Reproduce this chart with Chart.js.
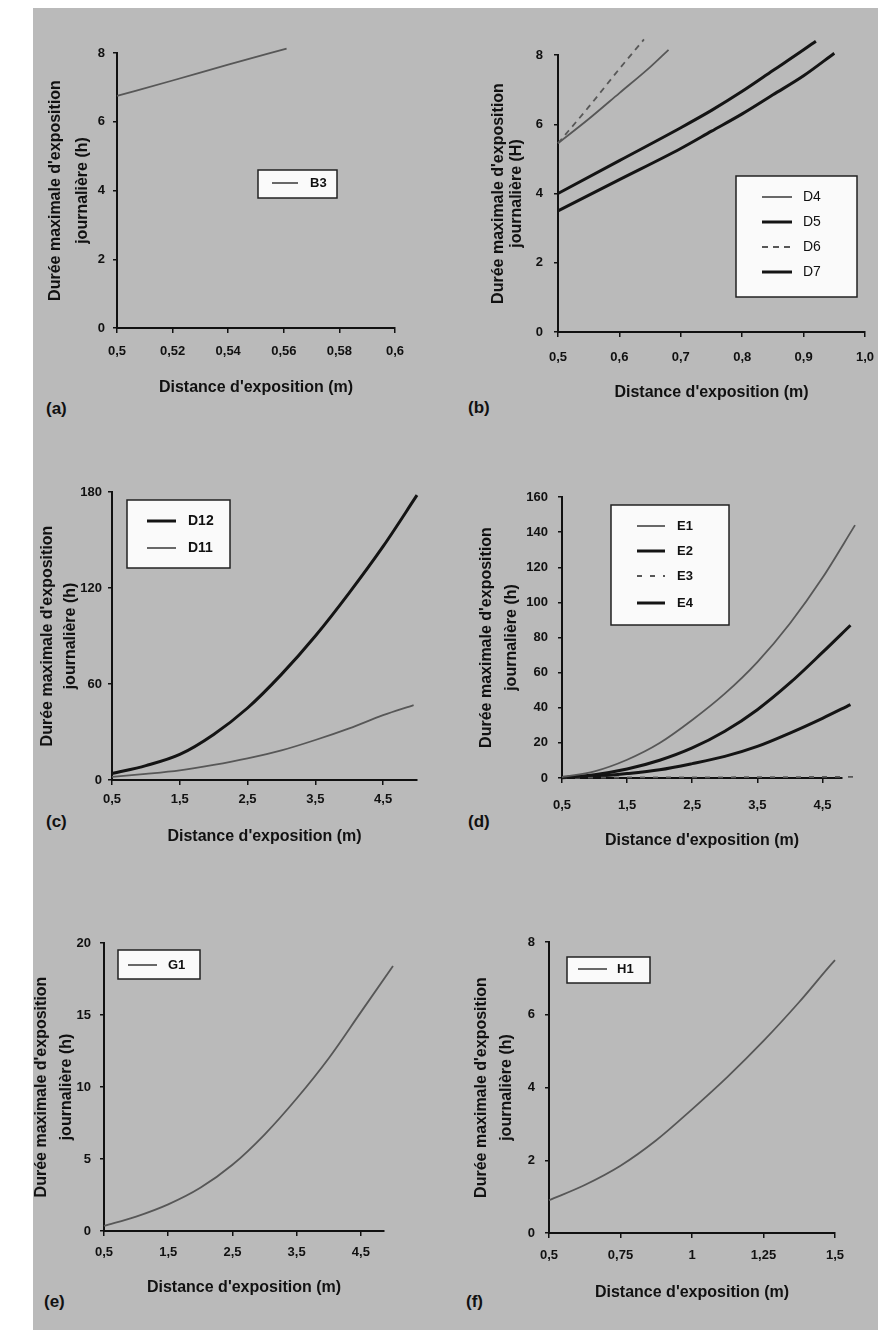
<!DOCTYPE html>
<html lang="fr">
<head>
<meta charset="UTF-8">
<title>Durée maximale d'exposition journalière</title>
<script src="https://cdn.jsdelivr.net/npm/chart.js"></script>
<style>
    html, body { margin: 0; padding: 0; background: #ffffff; }
    body { width: 881px; height: 1330px; position: relative; overflow: hidden;
           font-family: Arial, "Liberation Sans", sans-serif; }
    #sheet { position: absolute; left: 33px; top: 8px; width: 845px; height: 1322px; background: #bababa; }
    canvas { position: absolute; }
    .tag { position: absolute; font: bold 17px Arial, "Liberation Sans", sans-serif; color: #111; line-height: 18px; }
</style>
</head>
<body>
<div id="sheet"></div>
<div class="tag" style="left:46px; top:400px;">(a)</div>
<div class="tag" style="left:468px; top:399px;">(b)</div>
<div class="tag" style="left:46px; top:813px;">(c)</div>
<div class="tag" style="left:468px; top:813px;">(d)</div>
<div class="tag" style="left:44px; top:1293px;">(e)</div>
<div class="tag" style="left:466px; top:1293px;">(f)</div>

<script>
// ---- data ----
// (a)
const aX = [0.5, 0.52, 0.54, 0.561];
const aB3 = [6.75, 7.2, 7.66, 8.13];
const aXTicks = [0.5, 0.52, 0.54, 0.56, 0.58, 0.6];
const aXLabels = ['0,5', '0,52', '0,54', '0,56', '0,58', '0,6'];
const aYTicks = [0, 2, 4, 6, 8];

// (b)
const bXD4 = [0.5, 0.55, 0.6, 0.65, 0.68];
const bD4 = [5.45, 6.15, 6.9, 7.65, 8.15];
const bXD5 = [0.5, 0.6, 0.7, 0.75, 0.8, 0.85, 0.9, 0.92];
const bD5 = [4.0, 4.95, 5.9, 6.4, 6.95, 7.55, 8.15, 8.4];
const bXD6 = [0.5, 0.55, 0.6, 0.64];
const bD6 = [5.45, 6.5, 7.6, 8.45];
const bXD7 = [0.5, 0.6, 0.7, 0.75, 0.8, 0.85, 0.9, 0.95];
const bD7 = [3.5, 4.4, 5.3, 5.8, 6.3, 6.85, 7.4, 8.05];
const bXTicks = [0.5, 0.6, 0.7, 0.8, 0.9, 1.0];
const bXLabels = ['0,5', '0,6', '0,7', '0,8', '0,9', '1,0'];
const bYTicks = [0, 2, 4, 6, 8];

// (c)
const cXD12 = [0.5, 1, 1.5, 2, 2.5, 3, 3.5, 4, 4.5, 5];
const cD12 = [4, 9, 16, 28.5, 45, 66, 90, 117, 146, 178];
const cXD11 = [0.5, 1, 1.5, 2, 2.5, 3, 3.5, 4, 4.5, 4.95];
const cD11 = [2, 3.8, 6, 9.4, 13.5, 18.5, 25, 32.3, 40.5, 46.8];
const cXTicks = [0.5, 1.5, 2.5, 3.5, 4.5];
const cXLabels = ['0,5', '1,5', '2,5', '3,5', '4,5'];
const cYTicks = [0, 60, 120, 180];

// (d)
const dX1 = [0.5, 1, 1.5, 2, 2.5, 3, 3.5, 4, 4.5, 5];
const dE1 = [0.5, 3.8, 10.4, 19.9, 33, 48, 66, 88, 114, 144];
const dE3 = [0.1, 0.2, 0.3, 0.3, 0.4, 0.4, 0.5, 0.5, 0.6, 0.6];
const dX2 = [0.5, 1, 1.5, 2, 2.5, 3, 3.5, 4, 4.5, 4.93];
const dE2 = [0.3, 1.9, 5.1, 10.1, 17.1, 26.6, 38.9, 54.1, 71.5, 87];
const dE4 = [0.2, 0.9, 2.5, 4.7, 8.2, 12.3, 18, 25.6, 34, 41.8];
const dXTicks = [0.5, 1.5, 2.5, 3.5, 4.5];
const dXLabels = ['0,5', '1,5', '2,5', '3,5', '4,5'];
const dYTicks = [0, 20, 40, 60, 80, 100, 120, 140, 160];

// (e)
const eX = [0.5, 1, 1.5, 2, 2.5, 3, 3.5, 4, 4.5, 5];
const eG1 = [0.35, 1.0, 1.85, 3.0, 4.6, 6.7, 9.2, 12, 15.2, 18.4];
const eXTicks = [0.5, 1.5, 2.5, 3.5, 4.5];
const eXLabels = ['0,5', '1,5', '2,5', '3,5', '4,5'];
const eYTicks = [0, 5, 10, 15, 20];

// (f)
const fX = [0.5, 0.625, 0.75, 0.875, 1, 1.125, 1.25, 1.375, 1.5, 1.52];
const fH1 = [0.9, 1.32, 1.85, 2.55, 3.4, 4.3, 5.28, 6.35, 7.5, 7.66];
const fXTicks = [0.5, 0.75, 1, 1.25, 1.5];
const fXLabels = ['0,5', '0,75', '1', '1,25', '1,5'];
const fYTicks = [0, 2, 4, 6, 8];

// ---- layout of each panel (page pixels) ----
const GEOM = {
    a: { l: 117, t: 53,  r: 395, b: 328,  yTitleX: 56,  ySpace: 27, xTitleY: 388,  xPad: 11, yPad: 8 },
    b: { l: 558, t: 55,  r: 865, b: 332,  yTitleX: 499, ySpace: 18, xTitleY: 393,  xPad: 13, yPad: 11 },
    c: { l: 112, t: 492, r: 417, b: 780,  yTitleX: 48,  ySpace: 23, xTitleY: 837,  xPad: 7,  yPad: 6 },
    d: { l: 562, t: 497, r: 842, b: 778,  yTitleX: 487, ySpace: 25, xTitleY: 841,  xPad: 15, yPad: 10 },
    e: { l: 104, t: 943, r: 384, b: 1231, yTitleX: 42,  ySpace: 25, xTitleY: 1288, xPad: 9,  yPad: 9 },
    f: { l: 549, t: 942, r: 835, b: 1233, yTitleX: 482, ySpace: 25, xTitleY: 1293, xPad: 10, yPad: 10 }
};

// legend boxes drawn inside the plot (page pixels)
const LEGENDS = {
    a: { box: [258, 170, 79, 28],  rows: [183],                sx: [272, 298], tx: 310, font: 'bold 13px Arial, "Liberation Sans", sans-serif' },
    b: { box: [736, 176, 121, 121], rows: [197, 222, 247, 272], sx: [762, 792], tx: 803, font: '14px Arial, "Liberation Sans", sans-serif' },
    c: { box: [127, 500, 103, 68], rows: [521, 548],           sx: [147, 176], tx: 188, font: 'bold 14px Arial, "Liberation Sans", sans-serif' },
    d: { box: [611, 505, 118, 120], rows: [526, 551, 576, 603], sx: [637, 665], tx: 677, font: 'bold 13px Arial, "Liberation Sans", sans-serif' },
    e: { box: [118, 950, 82, 29],  rows: [965],                sx: [128, 157], tx: 168, font: 'bold 13px Arial, "Liberation Sans", sans-serif' },
    f: { box: [567, 957, 83, 26],  rows: [969],                sx: [578, 607], tx: 617, font: 'bold 13px Arial, "Liberation Sans", sans-serif' }
};

const GREY = { borderColor: '#575757', borderWidth: 1.8 };
const BLACK = { borderColor: '#141414', borderWidth: 3 };
const DASH = { borderColor: '#575757', borderWidth: 1.8, borderDash: [6, 5] };
const INK = '#111111';
const FONT = 'Arial, "Liberation Sans", sans-serif';

function series(label, xs, ys, style) {
    return Object.assign({
        label: label,
        data: xs.map((x, i) => ({ x: x, y: ys[i] })),
        pointRadius: 0,
        fill: false,
        clip: false,
        cubicInterpolationMode: 'monotone'
    }, style);
}

// legend drawn as a framed box inside the chart area
const boxLegend = {
    id: 'boxLegend',
    afterDraw(chart) {
        const lg = LEGENDS[chart.canvas.id];
        if (!lg) return;
        const ox = chart.canvas._ox, oy = chart.canvas._oy;
        const ctx = chart.ctx;
        ctx.save();
        ctx.fillStyle = '#fafafa';
        ctx.fillRect(lg.box[0] - ox, lg.box[1] - oy, lg.box[2], lg.box[3]);
        ctx.strokeStyle = '#222';
        ctx.lineWidth = 1.5;
        ctx.strokeRect(lg.box[0] - ox, lg.box[1] - oy, lg.box[2], lg.box[3]);
        chart.data.datasets.forEach((ds, i) => {
            const y = lg.rows[i] - oy;
            ctx.strokeStyle = ds.borderColor;
            ctx.lineWidth = ds.borderWidth;
            ctx.setLineDash(ds.borderDash || []);
            ctx.beginPath();
            ctx.moveTo(lg.sx[0] - ox, y);
            ctx.lineTo(lg.sx[1] - ox, y);
            ctx.stroke();
            ctx.setLineDash([]);
            ctx.fillStyle = INK;
            ctx.font = lg.font;
            ctx.textBaseline = 'middle';
            ctx.textAlign = 'left';
            ctx.fillText(ds.label, lg.tx - ox, y);
        });
        ctx.restore();
    }
};

function panel(key, xMin, xMax, xTicks, xLabels, yMax, yTicks, yUnit, datasets) {
    const g = GEOM[key];
    const left = Math.floor(g.yTitleX - g.ySpace / 2 - 4);
    const top = g.t - 20;
    const yW = g.l - left;
    const xH = g.xTitleY - g.b + 10;
    const w = g.r - left + 30;
    const h = g.b - top + xH;

    const cv = document.createElement('canvas');
    cv.id = key;
    cv.width = w;
    cv.height = h;
    cv.style.left = left + 'px';
    cv.style.top = top + 'px';
    cv._ox = left;
    cv._oy = top;
    document.body.appendChild(cv);

    const axisGrid = { display: true, drawOnChartArea: false, drawTicks: true, tickLength: 5, color: INK, lineWidth: 1.5 };
    const axisBorder = { display: true, color: INK, width: 2 };

    new Chart(cv.getContext('2d'), {
        type: 'line',
        data: { datasets: datasets },
        options: {
            responsive: false,
            animation: false,
            devicePixelRatio: 1,
            layout: { padding: { left: 0, top: 20, right: 30, bottom: 0 } },
            plugins: { legend: { display: false }, tooltip: { enabled: false } },
            scales: {
                x: {
                    type: 'linear',
                    min: xMin,
                    max: xMax,
                    afterBuildTicks: s => { s.ticks = xTicks.map(v => ({ value: v })); },
                    afterFit: s => { s.height = xH; },
                    ticks: {
                        autoSkip: false, maxRotation: 0, minRotation: 0, padding: g.xPad, color: INK,
                        font: { family: FONT, size: 13, weight: 'bold' },
                        callback: (v, i) => xLabels[i]
                    },
                    grid: axisGrid,
                    border: axisBorder,
                    title: {
                        display: true,
                        text: "Distance d'exposition (m)",
                        color: INK,
                        font: { family: FONT, size: 16, weight: 'bold', lineHeight: '20px' },
                        padding: { top: 0, bottom: 0 }
                    }
                },
                y: {
                    type: 'linear',
                    min: 0,
                    max: yMax,
                    afterBuildTicks: s => { s.ticks = yTicks.map(v => ({ value: v })); },
                    afterFit: s => { s.width = yW; },
                    ticks: {
                        autoSkip: false, padding: g.yPad, color: INK,
                        font: { family: FONT, size: 13, weight: 'bold' },
                        callback: v => String(v)
                    },
                    grid: Object.assign({}, axisGrid, { tickLength: 4 }),
                    border: axisBorder,
                    title: {
                        display: true,
                        text: ["Durée maximale d'exposition", 'journalière (' + yUnit + ')'],
                        color: INK,
                        font: { family: FONT, size: 16, weight: 'bold', lineHeight: g.ySpace + 'px' },
                        padding: { top: g.yTitleX - left - g.ySpace / 2, bottom: 0 }
                    }
                }
            }
        },
        plugins: [boxLegend]
    });
}

panel('a', 0.5, 0.6, aXTicks, aXLabels, 8, aYTicks, 'h', [
    series('B3', aX, aB3, GREY)
]);

panel('b', 0.5, 1.0, bXTicks, bXLabels, 8, bYTicks, 'H', [
    series('D4', bXD4, bD4, GREY),
    series('D5', bXD5, bD5, BLACK),
    series('D6', bXD6, bD6, DASH),
    series('D7', bXD7, bD7, BLACK)
]);

panel('c', 0.5, 5, cXTicks, cXLabels, 180, cYTicks, 'h', [
    series('D12', cXD12, cD12, BLACK),
    series('D11', cXD11, cD11, GREY)
]);

panel('d', 0.5, 4.8, dXTicks, dXLabels, 160, dYTicks, 'h', [
    series('E1', dX1, dE1, GREY),
    series('E2', dX2, dE2, BLACK),
    series('E3', dX1, dE3, { borderColor: '#575757', borderWidth: 1.8, borderDash: [5, 8] }),
    series('E4', dX2, dE4, BLACK)
]);

panel('e', 0.5, 4.86, eXTicks, eXLabels, 20, eYTicks, 'h', [
    series('G1', eX, eG1, GREY)
]);

panel('f', 0.5, 1.5, fXTicks, fXLabels, 8, fYTicks, 'h', [
    series('H1', fX, fH1, GREY)
]);
</script>
</body>
</html>
